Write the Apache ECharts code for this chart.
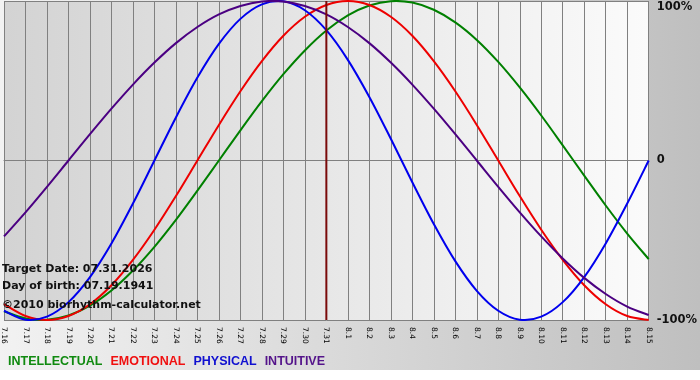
<!DOCTYPE html>
<html>
<head>
<meta charset="utf-8">
<script src="https://cdn.jsdelivr.net/npm/echarts@6/dist/echarts.min.js"></script>
<style>
  html, body { margin: 0; padding: 0; background: #fff; }
  #chart { width: 700px; height: 380px; }
</style>
</head>
<body>
<div id="chart"></div>
<script>
const days = ['7.16', '7.17', '7.18', '7.19', '7.20', '7.21', '7.22', '7.23', '7.24', '7.25',
    '7.26', '7.27', '7.28', '7.29', '7.30', '7.31', '8.1', '8.2', '8.3', '8.4', '8.5', '8.6',
    '8.7', '8.8', '8.9', '8.10', '8.11', '8.12', '8.13', '8.14', '8.15'];

const intellectual = [-0.945, -0.990, -0.999, -0.972, -0.910, -0.815, -0.690, -0.541, -0.372, -0.189,
    0, 0.189, 0.372, 0.541, 0.690, 0.815, 0.910, 0.972, 0.999, 0.990, 0.945, 0.866, 0.756, 0.618,
    0.458, 0.282, 0.095, -0.095, -0.282, -0.458, -0.618];
const emotional = [-0.901, -0.975, -1.000, -0.975, -0.901, -0.782, -0.623, -0.434, -0.223, 0,
    0.223, 0.434, 0.623, 0.782, 0.901, 0.975, 1.000, 0.975, 0.901, 0.782, 0.623, 0.434, 0.223, 0,
    -0.223, -0.434, -0.623, -0.782, -0.901, -0.975, -1.000];
const physical = [-0.942, -0.998, -0.979, -0.888, -0.731, -0.520, -0.270, 0, 0.270, 0.520, 0.731,
    0.888, 0.979, 0.998, 0.942, 0.817, 0.631, 0.398, 0.136, -0.136, -0.398, -0.631, -0.817, -0.942,
    -0.998, -0.979, -0.888, -0.731, -0.520, -0.270, 0];
const intuitive = [-0.476, -0.325, -0.165, 0, 0.165, 0.325, 0.476, 0.614, 0.736, 0.837, 0.916, 0.969,
    0.997, 0.997, 0.969, 0.916, 0.837, 0.736, 0.614, 0.476, 0.325, 0.165, 0, -0.165, -0.325, -0.476,
    -0.614, -0.736, -0.837, -0.916, -0.969];

const targetDay = '7.31';
const infoLines = ['Target Date: 07.31.2026', 'Day of birth: 07.19.1941', '©2010 biorhythm-calculator.net'];

const chart = echarts.init(document.getElementById('chart'));

// smooth curve through the daily points (catmull-rom as bezier), positions from api.coord
const curveSeries = (name, values, color) => ({
    name: name,
    type: 'custom',
    data: [[0, 0]],
    encode: { x: 0, y: 1 },
    silent: true,
    renderItem: (params, api) => {
        const pts = values.map((v, i) => api.coord([i, v]));
        let d = 'M' + pts[0][0] + ' ' + pts[0][1];
        for (let i = 0; i < pts.length - 1; i++) {
            const p0 = pts[Math.max(i - 1, 0)];
            const p1 = pts[i];
            const p2 = pts[i + 1];
            const p3 = pts[Math.min(i + 2, pts.length - 1)];
            const c1x = p1[0] + (p2[0] - p0[0]) / 6;
            const c1y = p1[1] + (p2[1] - p0[1]) / 6;
            const c2x = p2[0] - (p3[0] - p1[0]) / 6;
            const c2y = p2[1] - (p3[1] - p1[1]) / 6;
            d += ' C' + c1x + ' ' + c1y + ' ' + c2x + ' ' + c2y + ' ' + p2[0] + ' ' + p2[1];
        }
        return {
            type: 'path',
            shape: { pathData: d },
            style: { fill: null, stroke: color, lineWidth: 2 }
        };
    }
});

const option = {
    animation: false,
    backgroundColor: new echarts.graphic.LinearGradient(0, 0, 1, 0, [
        { offset: 0, color: '#f2f2f2' },
        { offset: 1, color: '#bfbfbf' }
    ]),
    grid: {
        left: 0,
        top: 1,
        width: 651,
        height: 319,
        show: true,
        borderWidth: 0,
        backgroundColor: new echarts.graphic.LinearGradient(0, 0, 1, 0, [
            { offset: 0, color: '#d3d3d3' },
            { offset: 1, color: '#fbfbfb' }
        ])
    },
    legend: {
        left: 3,
        top: 355,
        padding: 0,
        icon: 'none',
        itemWidth: 0,
        itemHeight: 12,
        itemGap: 3,
        selectedMode: false,
        textStyle: { fontFamily: 'Liberation Sans', fontWeight: 'bold', fontSize: 12.5 },
        data: [
            { name: 'INTELLECTUAL', textStyle: { color: '#108a10' } },
            { name: 'EMOTIONAL', textStyle: { color: '#f01010' } },
            { name: 'PHYSICAL', textStyle: { color: '#1010d0' } },
            { name: 'INTUITIVE', textStyle: { color: '#54148a' } }
        ]
    },
    xAxis: {
        type: 'category',
        data: days,
        boundaryGap: false,
        axisLine: { lineStyle: { color: '#808080', width: 1 } },
        axisTick: { show: true, length: 4, lineStyle: { color: '#808080' } },
        splitLine: { show: true, lineStyle: { color: '#808080', width: 1 } },
        axisLabel: {
            interval: 0,
            rotate: -90,
            margin: 7,
            fontFamily: 'DejaVu Sans',
            fontSize: 7.5,
            color: '#000'
        }
    },
    yAxis: {
        type: 'value',
        position: 'right',
        min: -1,
        max: 1,
        interval: 1,
        axisLine: { show: false },
        axisTick: { show: false },
        splitLine: { show: true, lineStyle: { color: '#808080', width: 1 } },
        axisLabel: {
            margin: 8,
            fontFamily: 'DejaVu Sans',
            fontWeight: 'bold',
            fontSize: 11.5,
            color: '#111',
            formatter: v => v === 1 ? '{t|100%}' : (v === 0 ? '0' : '-100%'),
            rich: {
                t: { fontFamily: 'DejaVu Sans', fontWeight: 'bold', fontSize: 11.5, color: '#111', padding: [12, 0, 0, 0] }
            }
        }
    },
    graphic: infoLines.map((t, i) => ({
        type: 'text',
        left: 2,
        top: [264, 281, 300][i],
        z: 100,
        style: {
            text: t,
            fill: '#111',
            font: 'bold 11px "DejaVu Sans"'
        }
    })).concat([{
        type: 'rect',
        left: 0,
        top: 370,
        z: -10,
        silent: true,
        shape: { width: 700, height: 10 },
        style: { fill: '#ffffff' }
    }]),
    series: [
        curveSeries('INTELLECTUAL', intellectual, '#008000'),
        curveSeries('EMOTIONAL', emotional, '#ee0000'),
        curveSeries('PHYSICAL', physical, '#0000ee'),
        curveSeries('INTUITIVE', intuitive, '#4b0082'),
        {
            name: 'target',
            type: 'custom',
            data: [[days.indexOf(targetDay)]],
            encode: { x: 0 },
            silent: true,
            renderItem: (params, api) => {
                const top = api.coord([api.value(0), 1]);
                const bottom = api.coord([api.value(0), -1]);
                return {
                    type: 'line',
                    shape: { x1: top[0], y1: top[1], x2: bottom[0], y2: bottom[1] },
                    style: { stroke: '#7a0a0a', lineWidth: 2 }
                };
            }
        }
    ]
};

chart.setOption(option);
</script>
</body>
</html>
